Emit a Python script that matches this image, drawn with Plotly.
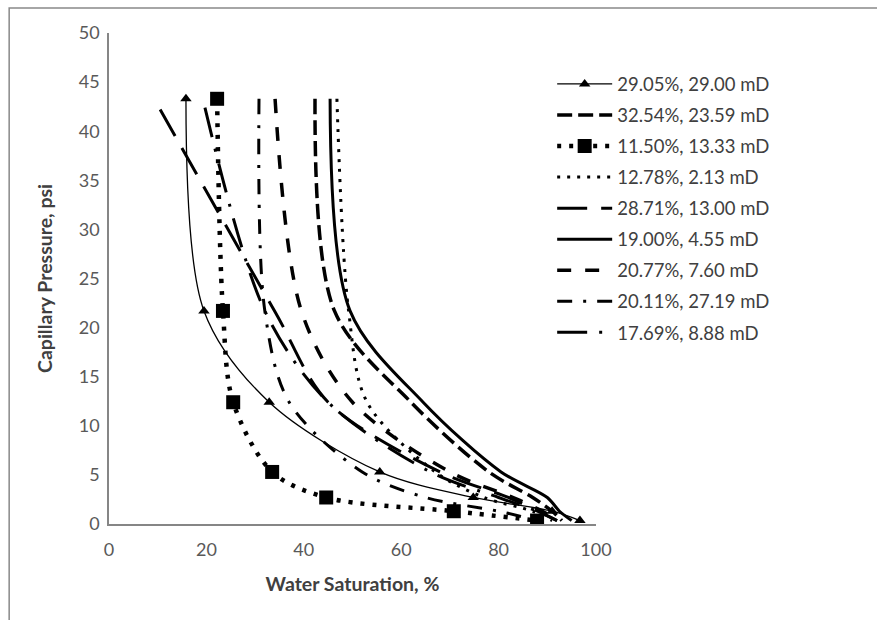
import plotly.graph_objects as go

# Capillary pressure steps (psi)
pressure = [43.3, 21.7, 12.4, 5.3, 2.7, 1.3, 0.35]
pressure_2871 = [42.2, 21.7, 12.4, 5.3, 2.7, 1.3, 0.35]
pressure_1769 = [42.4, 21.7, 12.4, 5.3, 2.7, 1.3, 0.35]

names = ["29.05%, 29.00 mD", "32.54%, 23.59 mD", "11.50%, 13.33 mD",
         "12.78%, 2.13 mD", "28.71%, 13.00 mD", "19.00%, 4.55 mD",
         "20.77%, 7.60 mD", "20.11%, 27.19 mD", "17.69%, 8.88 mD"]

sw_2905 = [15.8, 19.5, 32.9, 55.6, 74.8, 91.0, 96.7]
sw_3254 = [42.3, 46.3, 62.0, 78.0, 87.0, 91.0, 93.0]
sw_1150 = [22.2, 23.4, 25.5, 33.5, 44.6, 70.8, 87.9]
sw_1278 = [46.8, 49.2, 53.0, 67.0, 77.0, 87.0, 91.0]
sw_2871 = [10.5, 34.0, 45.0, 68.0, 82.0, 88.0, 92.0]
sw_1900 = [45.4, 49.5, 64.5, 80.5, 90.0, 92.5, 95.0]
sw_2077 = [34.1, 39.5, 50.0, 70.0, 83.0, 89.0, 92.0]
sw_2011 = [30.8, 32.0, 37.0, 52.0, 65.0, 80.0, 88.0]
sw_1769 = [19.7, 32.0, 45.0, 66.0, 80.0, 88.0, 92.0]

series = [sw_2905, sw_3254, sw_1150, sw_1278, sw_2871, sw_1900, sw_2077, sw_2011, sw_1769]
pressures = [pressure, pressure, pressure, pressure, pressure_2871, pressure,
             pressure, pressure, pressure_1769]

styles = [
    dict(width=1.3, dash="solid"),
    dict(width=3.5, dash="15px,6px"),
    dict(width=4.5, dash="4px,8px"),
    dict(width=3, dash="3px,7px"),
    dict(width=3, dash="30px,14px"),
    dict(width=3, dash="solid"),
    dict(width=3.5, dash="14px,14px"),
    dict(width=3, dash="15px,11px,3px,11px"),
    dict(width=3, dash="30px,12px,3px,12px"),
]
markers = [dict(symbol="triangle-up", size=10, color="black"), None,
           dict(symbol="square", size=14, color="black"), None, None, None, None, None, None]

fig = go.Figure()
for i, (nm, sw, pr) in enumerate(zip(names, series, pressures)):
    mk = markers[i]
    fig.add_trace(go.Scatter(
        x=sw, y=pr, name=nm, legendgroup=str(i),
        mode="lines+markers" if mk else "lines",
        line=dict(color="black", shape="spline", smoothing=0.9, **styles[i]),
        marker=mk if mk else None,
    ))

fig.update_layout(
    width=877, height=620,
    paper_bgcolor="white", plot_bgcolor="white",
    margin=dict(l=109, r=281, t=33, b=96),
    font=dict(family="Lato", size=18, color="#404040"),
    showlegend=True,
    legend=dict(x=0.91, y=0.934, xanchor="left", yanchor="top",
                font=dict(size=18.5, color="#404040"), tracegroupgap=4,
                itemwidth=55, bgcolor="rgba(0,0,0,0)"),
    xaxis=dict(range=[0, 100], tickvals=[0, 20, 40, 60, 80, 100],
               showgrid=False, zeroline=False, showline=True, linecolor="#868686",
               linewidth=1.5, ticks="", ticklabelstandoff=9,
               tickfont=dict(size=18, color="#595959"),
               title=dict(text="<b>Water Saturation, %</b>", font=dict(size=19.5, color="#404040"), standoff=18)),
    yaxis=dict(range=[0, 50], tickvals=list(range(0, 51, 5)),
               showgrid=False, zeroline=False, showline=True, linecolor="#868686",
               linewidth=1.5, ticks="", ticklabelstandoff=4,
               tickfont=dict(size=18, color="#595959"),
               title=dict(text="<b>Capillary Pressure, psi</b>", font=dict(size=19.5, color="#404040"), standoff=21)),
    shapes=[dict(type="rect", xref="paper", yref="paper",
                 x0=-0.205, x1=1.6, y0=-0.3, y1=1.051,
                 line=dict(color="#898989", width=1.5), layer="below")],
)

fig.write_html("out.html", config={"displayModeBar": False},
               post_script="document.body.style.margin='0';")
